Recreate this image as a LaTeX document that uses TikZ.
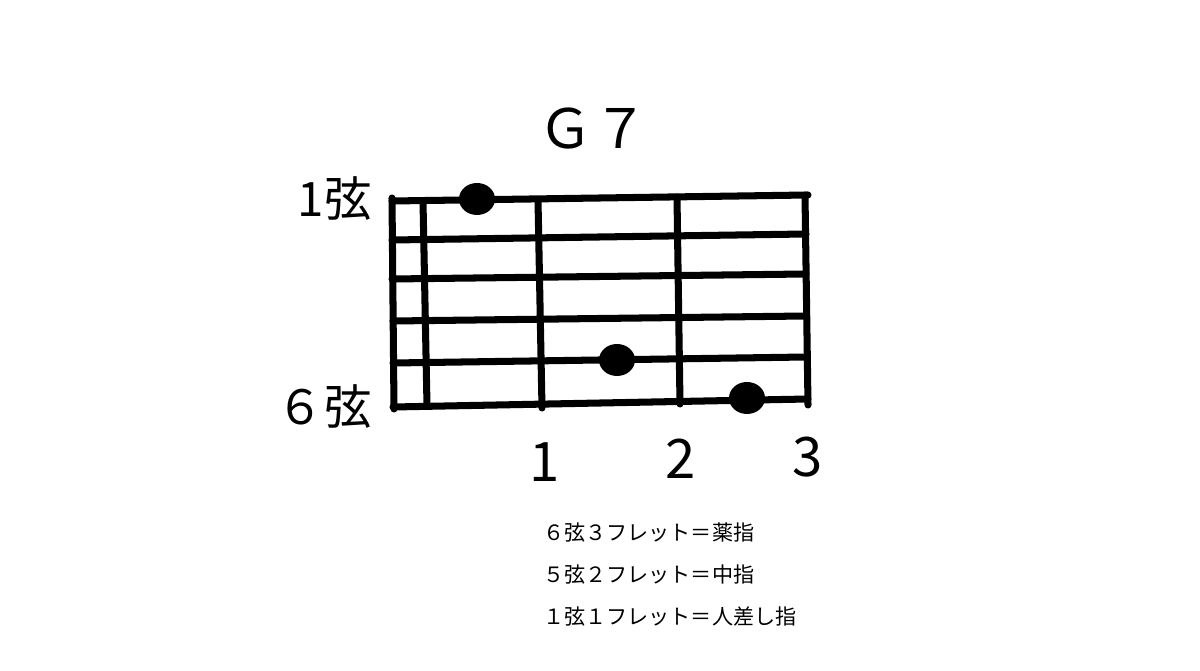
\documentclass[tikz,border=0pt]{standalone}
\usepackage{fontspec}
\setmainfont{Noto Sans CJK JP}
\begin{document}
\begin{tikzpicture}[x=0.02cm, y=-0.02cm,
  wire/.style={line width=4pt, line cap=round},
  fingerdot/.style={fill=black}]
% Picture size in pixels (1200 x 671), y runs downwards
\useasboundingbox (0,0) rectangle (1200,671);

% Draw the strings (1 on top, 6 at the bottom)
\draw[wire] (392,201) -- (808,195);
\draw[wire] (392,240) -- (806,234);
\draw[wire] (392,279) -- (806,274);
\draw[wire] (393,321) -- (806,316);
\draw[wire] (393,363) -- (806,357);
\draw[wire] (393,407) -- (808,399);

% Draw the nut and the frets
\draw[wire] (392,198) -- (394,409);
\draw[wire] (423,201) -- (427,406);
\draw[wire] (538,200) -- (542,408);
\draw[wire] (677,197) -- (680,404);
\draw[wire] (805,195) -- (808,405);

% Finger positions
\fill[fingerdot] (477,199) ellipse [x radius=0.36cm, y radius=0.32cm];
\fill[fingerdot] (617,360) ellipse [x radius=0.36cm, y radius=0.32cm];
\fill[fingerdot] (747,398) ellipse [x radius=0.36cm, y radius=0.32cm];

% Labels
\node (chord) [font=\fontsize{31}{36}\selectfont] at (593,129) {Ｇ７};
\node (topstring) [anchor=east, font=\fontsize{27}{32}\selectfont, inner sep=0pt] at (372,199) {1弦};
\node (lowstring) [anchor=east, font=\fontsize{27}{32}\selectfont, inner sep=0pt] at (372,407) {６弦};
\node (fretone) [font=\fontsize{31}{36}\selectfont] at (545,462) {1};
\node (frettwo) [font=\fontsize{31}{36}\selectfont] at (681,459) {2};
\node (fretthree) [font=\fontsize{31}{36}\selectfont] at (808,457) {3};

% Fingering notes
\node (noteA) [anchor=west, font=\fontsize{12}{14}\selectfont, inner sep=0pt] at (543,533) {６弦３フレット＝薬指};
\node (noteB) [anchor=west, font=\fontsize{12}{14}\selectfont, inner sep=0pt] at (543,575) {５弦２フレット＝中指};
\node (noteC) [anchor=west, font=\fontsize{12}{14}\selectfont, inner sep=0pt] at (543,617) {１弦１フレット＝人差し指};
\end{tikzpicture}
\end{document}
